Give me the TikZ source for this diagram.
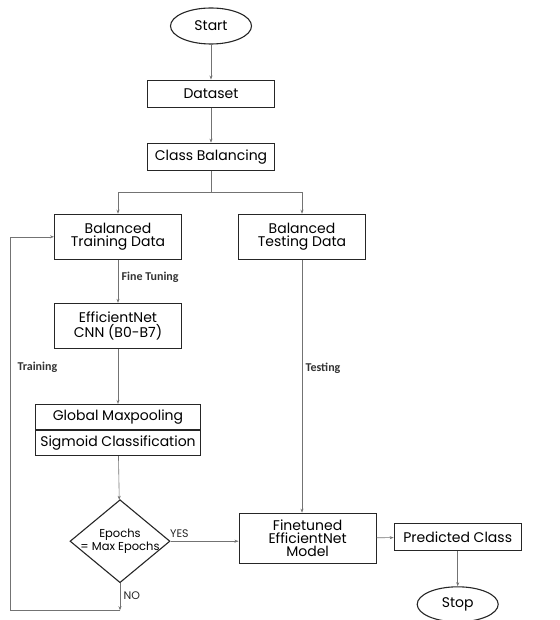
\documentclass[tikz,border=0pt]{standalone}
\usepackage{fontspec}
\setmainfont{Poppins}
\newfontfamily\labelfont{Carlito}
\usetikzlibrary{arrows.meta, positioning, shapes.geometric, shapes.multipart}

\begin{document}
\begin{tikzpicture}[
  x=1pt, y=1pt,
  block/.style={draw=black!85, line width=1.1pt, rectangle, minimum width=127pt, minimum height=27pt, inner sep=1pt, align=center, font=\fontsize{14}{13}\selectfont},
  splitbox/.style={draw=black!85, line width=1.1pt, rectangle split, rectangle split parts=2, minimum width=165pt, inner xsep=2pt, inner ysep=5pt, align=center, font=\fontsize{14}{13}\selectfont},
  terminal/.style={draw=black!85, line width=1.1pt, ellipse, minimum width=81pt, minimum height=36pt, inner sep=0pt, font=\fontsize{14}{13}\selectfont},
  decision/.style={draw=black!85, line width=1.1pt, diamond, minimum width=100pt, minimum height=83pt, inner sep=-10pt, align=center, font=\fontsize{11.5}{10}\selectfont},
  arr/.style={-{Stealth[length=4pt, width=3pt]}, draw=black!55, line width=0.6pt},
  line/.style={draw=black!55, line width=0.6pt},
  lbl/.style={font=\labelfont\bfseries\fontsize{12}{12}\selectfont, text=black!80},
  yn/.style={font=\fontsize{11}{10}\selectfont, text=black!85},
  node distance=35pt
]
\useasboundingbox (0,0) rectangle (559,-620);

% main column
\node[terminal] (start) at (211,-26) {Start};
\node[block, below=of start] (data) {Dataset};
\node[block, below=of data] (bal) {Class Balancing};
\node[block, minimum height=45pt, below=43pt of bal, xshift=-93pt] (train) {Balanced\\Training Data};
\node[block, minimum height=45pt, below=43pt of bal, xshift=91pt] (test) {Balanced\\Testing Data};
\node[block, minimum height=45pt, below=43pt of train] (cnn) {EfficientNet\\CNN (B0-B7)};
\node[splitbox, below=55pt of cnn] (pool) {Global Maxpooling\nodepart{two}Sigmoid Classification};
\node[decision, below=43pt of pool, xshift=2pt] (dec) {Epochs\\= Max Epochs};
\node[block, minimum width=137pt, minimum height=50pt, right=68pt of dec, yshift=3pt] (fine) {Finetuned\\EfficientNet\\Model};
\node[block, right=17pt of fine, yshift=1pt] (pred) {Predicted Class};
\node[terminal, minimum height=35pt, below=35pt of pred] (stop) {Stop};

% helper points
\coordinate[below=22pt of bal.south] (split);
\coordinate[below=27pt of dec.south] (nobend);
\coordinate (loopx) at (10,0);

% connectors
\draw[arr] (start) -- (data);
\draw[arr] (data) -- (bal);
\draw[line] (bal) -- (split);
\draw[arr] (split) -| (train.north);
\draw[arr] (split) -| (test.north);
\draw[arr] (train) -- node[lbl, right, pos=0.4] {Fine Tuning} (cnn);
\draw[arr] (cnn) -- (pool);
\draw[arr] (pool) -- (dec);
\draw[arr] (dec.east) -- node[yn, above, pos=0.13] {YES} (dec.east -| fine.west);
\draw[arr] (test) -- node[lbl, right, pos=0.43] {Testing} (test |- fine.north);
\draw[arr] (fine) -- (pred);
\draw[arr] (pred) -- (stop);
\draw[arr] (dec.south) -- node[yn, right, pos=0.45] {NO} (nobend);
\draw[arr] (nobend) -- (nobend -| loopx) |- (train.west);
\node[lbl, anchor=west] (trainlbl) at (14,-367) {Training};
\end{tikzpicture}
\end{document}
